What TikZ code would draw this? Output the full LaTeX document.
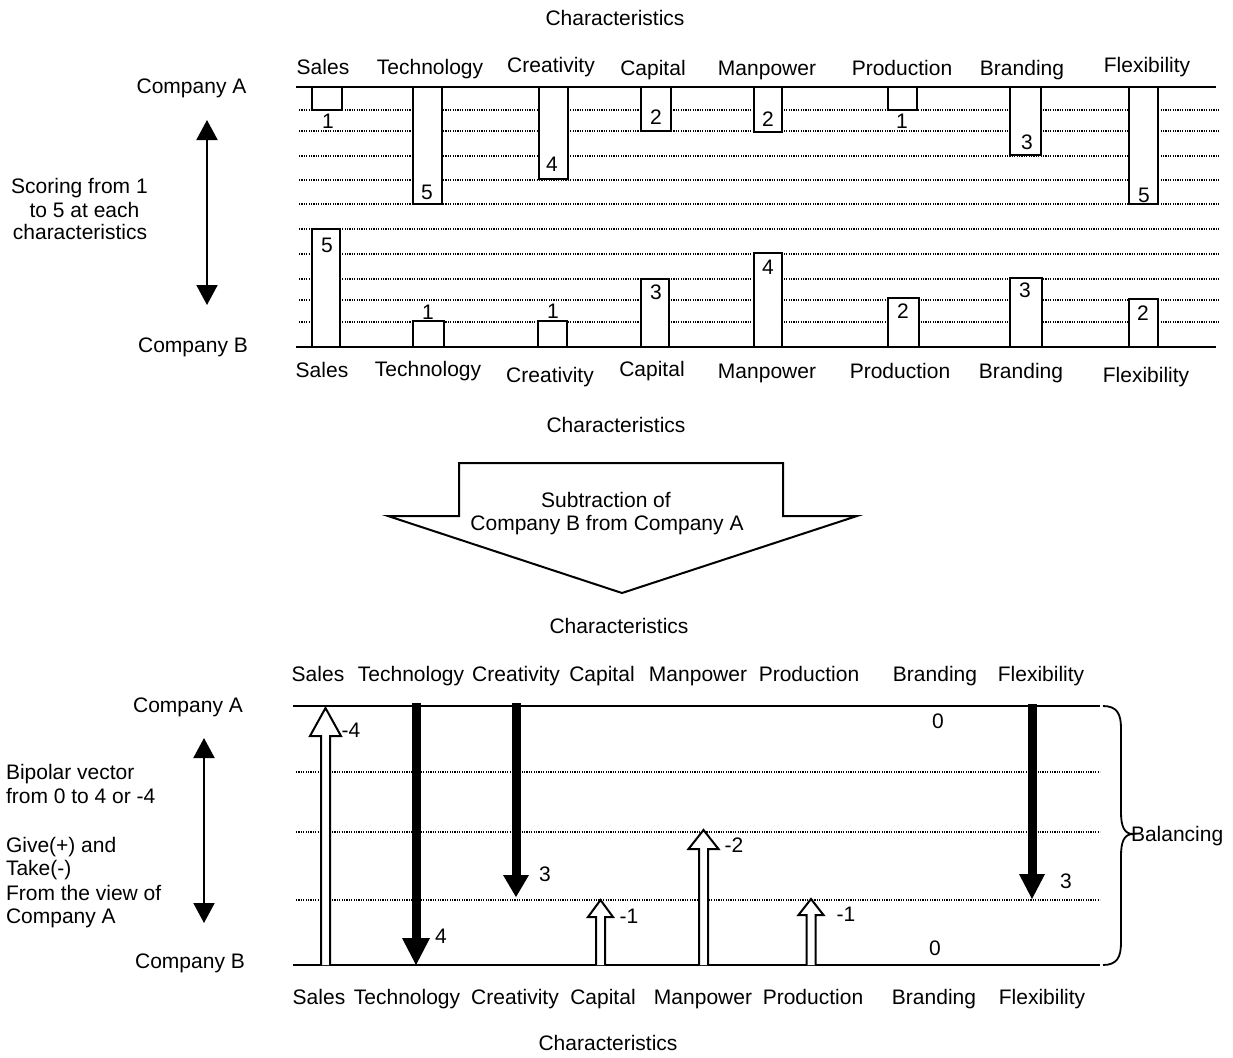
\documentclass[tikz,border=0pt]{standalone}
\usepackage{fontspec}
\setmainfont{Liberation Sans}
\usetikzlibrary{arrows.meta}
\tikzset{
  lbl/.style={inner sep=0pt, outer sep=0pt, font=\fontsize{10.5}{12}\selectfont, anchor=base},
  axisline/.style={line width=1.1pt},
  gridline/.style={line width=0.6pt, dash pattern=on 0.6pt off 0.6pt},
  bar/.style={draw, line width=1.1pt, fill=white},
  hollow/.style={draw, line width=1pt, fill=white, line join=miter},
  dblarrow/.style={line width=1pt, {Triangle[width=10.5pt,length=10pt]}-{Triangle[width=10.5pt,length=10pt]}},
  bigarrow/.style={draw, line width=1pt, fill=white, line join=miter},
  bracestyle/.style={line width=0.9pt}
}
\newcommand{\hollowup}[5]{%
  \draw[hollow] ({#1-4.5},{#2}) -- ({#1-4.5},{#3+#5}) -- ({#1-#4},{#3+#5}) -- ({#1},{#3}) -- ({#1+#4},{#3+#5}) -- ({#1+4.5},{#3+#5}) -- ({#1+4.5},{#2});}
\newcommand{\blackdown}[5]{%
  \fill ({#1-4.5},{#2}) rectangle ({#1+4.5},{#3-#5+1});
  \fill ({#1-#4},{#3-#5}) -- ({#1+#4},{#3-#5}) -- ({#1},{#3}) -- cycle;}
\begin{document}
\begin{tikzpicture}[x=0.5pt,y=-0.5pt]
\useasboundingbox (0,0) rectangle (1233,1057);

% ===== top chart =====
\node[lbl] (char1) at (615,25) {Characteristics};
% grid lines
\foreach \yy in {110,131,156,180,204,229,254,279,300,322}
  \draw[gridline] (299,\yy) -- (1220,\yy);
\draw[axisline] (296,87) -- (1216,87);
\draw[axisline] (296,347) -- (1216,347);
% Company A bars
\draw[bar] (312,87) rectangle (342,110);
\draw[bar] (413,87) rectangle (442,204);
\draw[bar] (539,87) rectangle (568,179);
\draw[bar] (641,87) rectangle (671,131);
\draw[bar] (754,87) rectangle (782,132);
\draw[bar] (888,87) rectangle (917,110);
\draw[bar] (1010,87) rectangle (1041,155);
\draw[bar] (1129,87) rectangle (1158,204);
% Company B bars
\draw[bar] (312,347) rectangle (340,229);
\draw[bar] (413,347) rectangle (444,321);
\draw[bar] (538,347) rectangle (567,321);
\draw[bar] (641,347) rectangle (669,279);
\draw[bar] (754,347) rectangle (782,253);
\draw[bar] (888,347) rectangle (919,298);
\draw[bar] (1010,347) rectangle (1042,278);
\draw[bar] (1129,347) rectangle (1158,299);
% values A
\node[lbl] (va1) at (328,128.5) {1};
\node[lbl] (va2) at (427,199.5) {5};
\node[lbl] (va3) at (552,171.5) {4};
\node[lbl] (va4) at (656,124.5) {2};
\node[lbl] (va5) at (768,126.5) {2};
\node[lbl] (va6) at (902,128.5) {1};
\node[lbl] (va7) at (1027,149.5) {3};
\node[lbl] (va8) at (1144,202.5) {5};
% values B
\node[lbl] (vb1) at (327,252.5) {5};
\node[lbl] (vb2) at (428,319.5) {1};
\node[lbl] (vb3) at (553,318.5) {1};
\node[lbl] (vb4) at (656,299.5) {3};
\node[lbl] (vb5) at (768,274.5) {4};
\node[lbl] (vb6) at (903,318.5) {2};
\node[lbl] (vb7) at (1025,297.5) {3};
\node[lbl] (vb8) at (1143,320.5) {2};
% labels top
\node[lbl] (ta1) at (323,74) {Sales};
\node[lbl] (ta2) at (430,74) {Technology};
\node[lbl] (ta3) at (551,72) {Creativity};
\node[lbl] (ta4) at (653,75) {Capital};
\node[lbl] (ta5) at (767,75) {Manpower};
\node[lbl] (ta6) at (902,75) {Production};
\node[lbl] (ta7) at (1022,75) {Branding};
\node[lbl] (ta8) at (1147,72) {Flexibility};
% labels bottom
\node[lbl] (tb1) at (322,377) {Sales};
\node[lbl] (tb2) at (428,376) {Technology};
\node[lbl] (tb3) at (550,382) {Creativity};
\node[lbl] (tb4) at (652,376) {Capital};
\node[lbl] (tb5) at (767,378) {Manpower};
\node[lbl] (tb6) at (900,378) {Production};
\node[lbl] (tb7) at (1021,378) {Branding};
\node[lbl] (tb8) at (1146,382) {Flexibility};
\node[lbl] (char2) at (616,432) {Characteristics};
% left
\node[lbl] (compA1) at (191.5,93) {Company A};
\node[lbl] (compB1) at (193,352) {Company B};
\node[lbl] (sc1) at (79.5,193) {Scoring from 1};
\node[lbl] (sc2) at (84.5,217) {to 5 at each};
\node[lbl] (sc3) at (80,239) {characteristics};
\coordinate (da1t) at (207,120);
\coordinate (da1b) at (207,305);
\draw[dblarrow] (da1t) -- (da1b);

% ===== big arrow =====
\draw[bigarrow] (459,463) -- (783,463) -- (783,516) -- (857,516) -- (622,593) -- (388,516) -- (459,516) -- cycle;
\node[lbl] (sub1) at (606,507) {Subtraction of};
\node[lbl] (sub2) at (607,530) {Company B from Company A};

% ===== bottom chart =====
\node[lbl] (char3) at (619,633) {Characteristics};
\foreach \yy in {772,832,900}
  \draw[gridline] (296,\yy) -- (1100,\yy);
\draw[axisline] (293,706) -- (1100,706);
\draw[axisline] (293,965) -- (1100,965);
\node[lbl] (ua1) at (318,681) {Sales};
\node[lbl] (ua2) at (411,681) {Technology};
\node[lbl] (ua3) at (516,681) {Creativity};
\node[lbl] (ua4) at (602,681) {Capital};
\node[lbl] (ua5) at (698,681) {Manpower};
\node[lbl] (ua6) at (809,681) {Production};
\node[lbl] (ua7) at (935,681) {Branding};
\node[lbl] (ua8) at (1041,681) {Flexibility};
\node[lbl] (ub1) at (319,1004) {Sales};
\node[lbl] (ub2) at (407,1004) {Technology};
\node[lbl] (ub3) at (515,1004) {Creativity};
\node[lbl] (ub4) at (603,1004) {Capital};
\node[lbl] (ub5) at (703,1004) {Manpower};
\node[lbl] (ub6) at (813,1004) {Production};
\node[lbl] (ub7) at (934,1004) {Branding};
\node[lbl] (ub8) at (1042,1004) {Flexibility};
\node[lbl] (char4) at (608,1050) {Characteristics};
% arrows
\hollowup{325.5}{965}{708}{15.5}{28}
\blackdown{416}{703}{965}{14}{27}
\blackdown{516}{703}{897}{13}{22}
\hollowup{600.5}{965}{900}{12.5}{17}
\hollowup{703.5}{965}{830}{15}{19}
\hollowup{811}{965}{899}{12.5}{16}
\blackdown{1032}{704}{899}{13}{25}
% values
\node[lbl] (w1) at (351,737) {-4};
\node[lbl] (w2) at (441,943) {4};
\node[lbl] (w3) at (545,881) {3};
\node[lbl] (w4) at (629,923) {-1};
\node[lbl] (w5) at (734,852) {-2};
\node[lbl] (w6) at (846,921) {-1};
\node[lbl] (w7) at (938,728) {0};
\node[lbl] (w8) at (935,955) {0};
\node[lbl] (w9) at (1066,888) {3};
% brace
\draw[bracestyle] (1103,706) .. controls (1117,706) and (1121,714) .. (1121,728) -- (1121,812) .. controls (1121,826) and (1124,834) .. (1133,834) .. controls (1124,834) and (1121,842) .. (1121,856) -- (1121,943) .. controls (1121,957) and (1117,965) .. (1103,965);
\node[lbl, anchor=base west] (bal) at (1131,841) {Balancing};
% left
\node[lbl] (compA2) at (188,712) {Company A};
\node[lbl] (compB2) at (190,968) {Company B};
\node[lbl, anchor=base west] (bp1) at (6,779) {Bipolar vector};
\node[lbl, anchor=base west] (bp2) at (6,803) {from 0 to 4 or -4};
\node[lbl, anchor=base west] (bp3) at (6,852) {Give(+) and};
\node[lbl, anchor=base west] (bp4) at (6,875) {Take(-)};
\node[lbl, anchor=base west] (bp5) at (6,900) {From the view of};
\node[lbl, anchor=base west] (bp6) at (6,923) {Company A};
\coordinate (da2t) at (204,738);
\coordinate (da2b) at (204,923);
\draw[dblarrow] (da2t) -- (da2b);
\end{tikzpicture}
\end{document}
